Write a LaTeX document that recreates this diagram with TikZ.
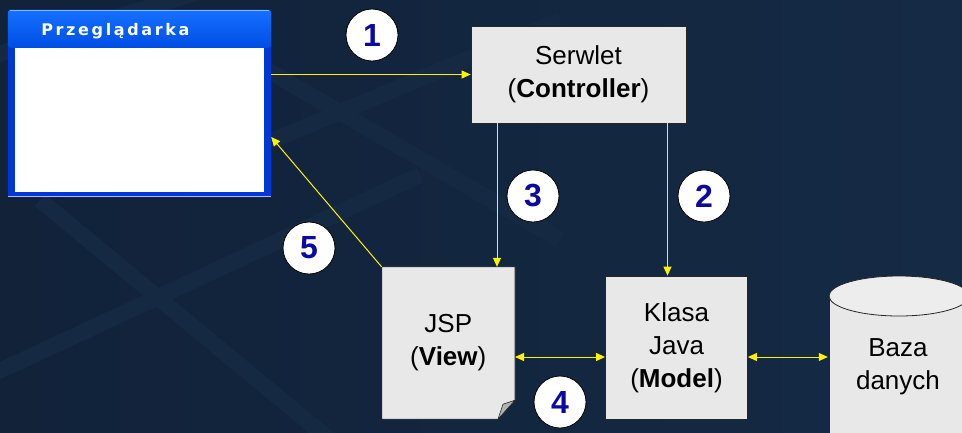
\documentclass[tikz,border=0pt]{standalone}
\usepackage{fontspec}
\setmainfont{Liberation Sans}
\newfontfamily\titlefont[LetterSpace=16.5]{DejaVu Sans}
\usetikzlibrary{arrows.meta,backgrounds}

\definecolor{tloL}{RGB}{17,34,57}
\definecolor{tloP}{RGB}{21,42,69}
\definecolor{pas}{RGB}{21,41,67}
\definecolor{szary}{RGB}{232,232,232}
\definecolor{granat}{RGB}{10,10,160}
\definecolor{okno}{RGB}{0,55,215}
\definecolor{pasekG}{RGB}{20,112,255}
\definecolor{pasekD}{RGB}{0,78,228}

\tikzset{
  krok/.style={circle, draw=black, fill=white, line width=0.8pt, minimum size=52pt,
    inner sep=0pt, text=granat, font=\fontsize{32}{32}\selectfont\bfseries},
  blok/.style={draw=black!85, fill=szary, line width=0.8pt, align=center,
    font=\fontsize{26}{33}\selectfont},
  napis/.style={align=center, font=\fontsize{26}{33}\selectfont},
  strz/.style={draw=yellow, line width=1pt, -{Triangle[length=9pt,width=8pt]}},
  strz2/.style={strz, {Triangle[length=9pt,width=8pt]}-{Triangle[length=9pt,width=8pt]}},
}

\begin{document}
\begin{tikzpicture}[x=1pt, y=-1pt]
	\useasboundingbox (0,0) rectangle (962,432);
	\clip (0,0) rectangle (962,432);

	% tlo
	\begin{scope}[on background layer]
		\shade[left color=tloL, right color=tloP] (0,0) rectangle (962,432);
		\draw[pas, line width=16pt] (40,200) -- (330,440);
		\draw[pas, line width=16pt] (-20,380) -- (420,175);
		\draw[pas, line width=16pt] (250,150) -- (560,20);
		\draw[pas, line width=16pt] (250,60) -- (560,240);
		\draw[pas, line width=16pt] (-20,60) -- (300,-40);
	\end{scope}

	% okno przegladarki
	\node[minimum width=263pt, minimum height=187pt, inner sep=0pt] (P) at (139.5,103.5) {};
	\fill[okno, rounded corners=3pt] (P.south west) rectangle (P.north east);
	\shade[top color=pasekG, bottom color=pasekD, rounded corners=3pt]
		(P.north west) rectangle ([yshift=-38pt]P.north east);
	\draw[white!50!pasekG, line width=1pt] ([xshift=2pt,yshift=-0.5pt]P.north west) -- ([xshift=-2pt,yshift=-0.5pt]P.north east);
	\fill[white] ([xshift=7pt,yshift=-38pt]P.north west) rectangle ([xshift=-7pt,yshift=5pt]P.south east);
	\draw[blue!30, line width=1pt] ([yshift=0.5pt]P.south west) -- ([yshift=0.5pt]P.south east);
	\node[anchor=west, text=white, font=\titlefont\bfseries\fontsize{16}{16}\selectfont]
		(Pt) at ([xshift=30pt,yshift=-21pt]P.north west) {Przeglądarka};

	% bloki
	\node[blok, minimum width=215pt, minimum height=97pt] (S) at (578.5,74.5) {Serwlet\\(\textbf{Controller})};
	\node[blok, minimum width=142pt, minimum height=143pt] (K) at (676.5,347.5) {Klasa\\Java\\(\textbf{Model})};
	\node[napis, minimum width=133pt, minimum height=152pt] (J) at (448.3,343) {JSP\\(\textbf{View})};
	\node[napis, minimum width=140pt, minimum height=100pt] (B) at (898,367) {Baza\\danych};

	% kartka JSP i baza
	\begin{scope}[on background layer]
		\filldraw[fill=szary, draw=black!85, line width=0.8pt] (J.north west) -- (J.north east)
			-- ([yshift=19pt]J.south east) -- ([xshift=-17pt]J.south east) -- (J.south west) -- cycle;
		\filldraw[fill=black!30, draw=black!85, line width=0.6pt] ([yshift=19pt]J.south east)
			-- ([xshift=-12pt,yshift=15pt]J.south east) -- ([xshift=-17pt]J.south east) -- cycle;
		\filldraw[fill=szary, draw=black!85, line width=0.8pt] (829,296) -- (829,450) -- (969,450) -- (969,296);
		\filldraw[fill=black!7, draw=black!85, line width=0.8pt] (899,296) ellipse [x radius=70pt, y radius=20pt];
	\end{scope}

	% strzalki
	\draw[strz] (P.east |- S.west) -- (S.west);
	\draw[strz] ([xshift=89pt]S.south) coordinate (s2) -- (s2 |- K.north);
	\draw[strz] ([xshift=-81.5pt]S.south) coordinate (s3) -- (s3 |- J.north);
	\draw[strz2] ([yshift=-14pt]J.east) coordinate (j4) -- (j4 -| K.west);
	\draw[strz2] (j4 -| K.east) -- (j4 -| B.west);
	\draw[strz] (J.north west) -- ([yshift=-33.5pt]P.east);

	% numery
	\node[krok] (n1) at (372,35) {1};
	\node[krok] (n2) at (704,196) {2};
	\node[krok] (n3) at (533,196) {3};
	\node[krok] (n4) at (560,402) {4};
	\node[krok] (n5) at (309,248) {5};
\end{tikzpicture}
\end{document}
